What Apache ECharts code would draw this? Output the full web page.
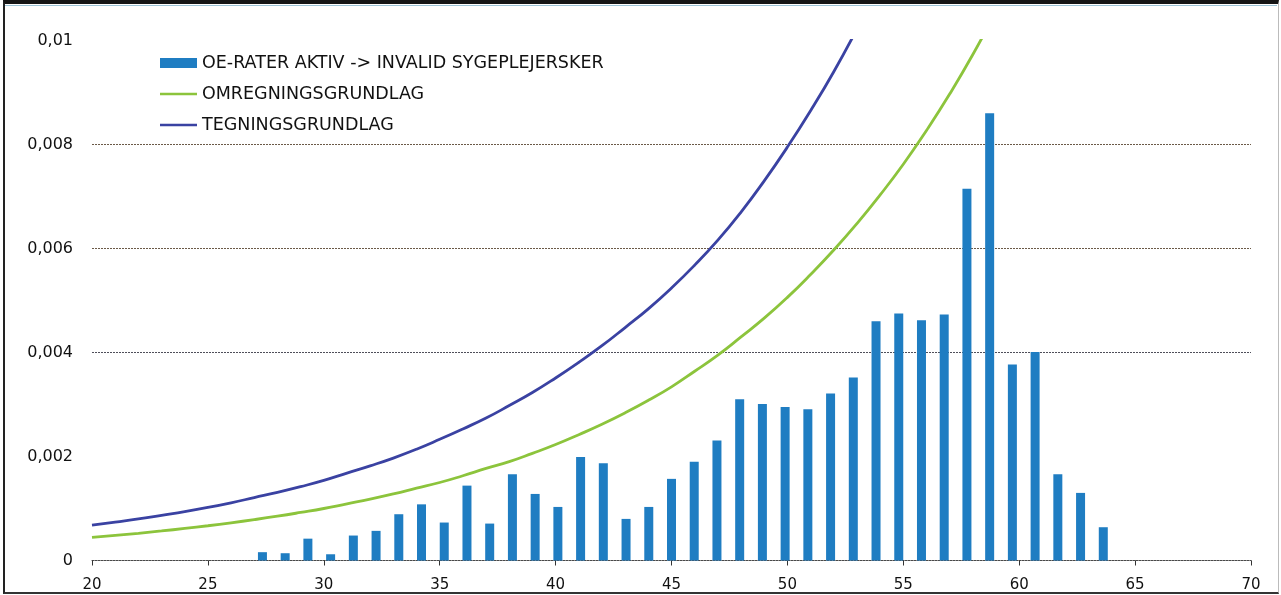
<!DOCTYPE html>
<html>
<head>
<meta charset="utf-8">
<script src="https://cdn.jsdelivr.net/npm/echarts@6/dist/echarts.min.js"></script>
<style>
  html, body { margin: 0; padding: 0; background: #fff; }
  #wrap { position: relative; width: 1281px; height: 595px; overflow: hidden; background: #fff; }
  #chart { position: absolute; left: 0; top: 0; width: 1281px; height: 595px; }
  #frame { position: absolute; left: 3px; top: 0; width: 1273px; height: 588px;
           border-top: 4px solid #151515; border-left: 2px solid #222; border-right: 1px solid #bbb;
           border-bottom: 2px solid #333; pointer-events: none; }
  #topline { position: absolute; left: 5px; top: 5px; width: 1272px; height: 1px; background: #9cc3d6; }
</style>
</head>
<body>
<div id="wrap">
  <div id="chart"></div>
  <div id="frame"></div>
  <div id="topline"></div>
</div>
<script>
// ---- data ----
const seriesNames = ['OE-RATER AKTIV -> INVALID SYGEPLEJERSKER', 'OMREGNINGSGRUNDLAG', 'TEGNINGSGRUNDLAG'];
const xTicks = [20, 25, 30, 35, 40, 45, 50, 55, 60, 65, 70];
const yTicks = [0, 0.002, 0.004, 0.006, 0.008, 0.01];

// bars: observed rates by age (category slots 20..70)
const ageSlots = [20,21,22,23,24,25,26,27,28,29,30,31,32,33,34,35,36,37,38,39,40,41,42,43,44,45,46,47,48,49,50,51,52,53,54,55,56,57,58,59,60,61,62,63,64,65,66,67,68,69,70];
const barAges = [27,28,29,30,31,32,33,34,35,36,37,38,39,40,41,42,43,44,45,46,47,48,49,50,51,52,53,54,55,56,57,58,59,60,61,62,63,64];
const barRates = [0.00016,0.00014,0.00042,0.00012,0.00048,0.00057,0.00089,0.00108,0.00073,0.00144,0.00071,0.00166,0.00128,0.00103,0.00199,0.00187,0.00080,0.00103,0.00157,0.00190,0.00231,0.00310,0.00301,0.00295,0.00291,0.00321,0.00352,0.00460,0.00475,0.00462,0.00473,0.00715,0.00860,0.00377,0.00401,0.00166,0.00130,0.00064];

// Tegningsgrundlag (blue curve)
const tegnAges = [20,21,22,23,24,25,26,27,28,29,30,31,32,33,34,35,36,37,38,39,40,41,42,43,44,45,46,47,48,49,50,51,52,53];
const tegnRates = [0.00068,0.00074,0.00080,0.00087,0.00094,0.00102,0.00111,0.00121,0.00131,0.00142,0.00154,0.00168,0.00182,0.00197,0.00214,0.00233,0.00253,0.00274,0.00298,0.00323,0.00351,0.00381,0.00413,0.00448,0.00484,0.00524,0.00568,0.00616,0.00670,0.00730,0.00795,0.00865,0.00940,0.01022];

// Omregningsgrundlag (green curve)
const omrAges = [20,21,22,23,24,25,26,27,28,29,30,31,32,33,34,35,36,37,38,39,40,41,42,43,44,45,46,47,48,49,50,51,52,53,54,55,56,57,58,59];
const omrRates = [0.000445,0.000483,0.000523,0.000568,0.000616,0.000668,0.000725,0.000786,0.000852,0.000924,0.00100,0.00109,0.00118,0.00128,0.00139,0.00150,0.00163,0.00177,0.00190,0.00206,0.00223,0.00242,0.00262,0.00284,0.00308,0.00334,0.00364,0.00395,0.00430,0.00466,0.00506,0.00550,0.00597,0.00648,0.00703,0.00762,0.00827,0.00897,0.00973,0.01056];

// ---- chart ----
const font = "'DejaVu Sans', Verdana, sans-serif";
const chart = echarts.init(document.getElementById('chart'), null, { renderer: 'canvas' });

const fmt = v => v === 0 ? '0' : String(Number(v.toFixed(4))).replace('.', ',');
const lineIcon = 'path://M0,0 L37,0 L37,2.6 L0,2.6 Z';

chart.setOption({
  animation: false,
  backgroundColor: 'transparent',
  grid: { left: 92, right: 30, top: 40.5, bottom: 34.5, containLabel: false },
  legend: {
    orient: 'vertical',
    left: 155, top: 49,
    itemWidth: 37, itemHeight: 10, itemGap: 13,
    textStyle: { fontFamily: font, fontSize: 17.5, color: '#111', lineHeight: 18 },
    data: [
      { name: seriesNames[0], icon: 'rect' },
      { name: seriesNames[1], icon: lineIcon },
      { name: seriesNames[2], icon: lineIcon }
    ]
  },
  xAxis: [
    {
      type: 'value', min: xTicks[0], max: xTicks[xTicks.length - 1], interval: 5,
      axisLine: { show: true, lineStyle: { color: '#4a4a4a', type: [2, 1], width: 1 } },
      axisTick: { show: true, length: 5, lineStyle: { color: '#333' } },
      axisLabel: { fontFamily: font, fontSize: 15, color: '#111', margin: 17 },
      splitLine: { show: false }
    },
    {
      type: 'category', data: ageSlots.map(String), boundaryGap: true, show: false,
      position: 'bottom'
    }
  ],
  yAxis: {
    type: 'value', min: yTicks[0], max: yTicks[yTicks.length - 1], interval: 0.002,
    axisLine: { show: false }, axisTick: { show: false },
    axisLabel: { fontFamily: font, fontSize: 16, color: '#111', margin: 19, formatter: fmt },
    splitLine: { show: true, lineStyle: { color: ['transparent', 'transparent', '#4f4f5a', '#6b5a48', '#6b5a48', 'transparent'], type: [2, 1], width: 1 } }
  },
  series: [
    {
      name: seriesNames[0], type: 'bar', xAxisIndex: 1,
      barWidth: 9,
      itemStyle: { color: '#1f7dc2' },
      data: barAges.map((a, i) => [String(a), barRates[i]])
    },
    {
      name: seriesNames[1], type: 'line', xAxisIndex: 0, symbol: 'none', smooth: true,
      lineStyle: { color: '#8cc43c', width: 2.8 }, itemStyle: { color: '#8cc43c' },
      clip: true,
      data: omrAges.map((a, i) => [a, omrRates[i]])
    },
    {
      name: seriesNames[2], type: 'line', xAxisIndex: 0, symbol: 'none', smooth: true,
      lineStyle: { color: '#3a42a2', width: 2.8 }, itemStyle: { color: '#3a42a2' },
      clip: true,
      data: tegnAges.map((a, i) => [a, tegnRates[i]])
    }
  ]
});
</script>
</body>
</html>
